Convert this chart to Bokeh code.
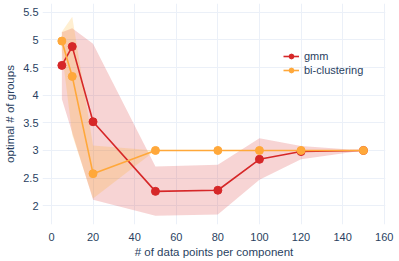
from bokeh.plotting import figure
from bokeh.models import Legend, LegendItem, FixedTicker
from bokeh.embed import file_html
from bokeh.resources import INLINE

# data
x_vals = [5, 10, 20, 50, 80, 100, 120, 150]
gmm_mean = [4.54, 4.88, 3.52, 2.26, 2.28, 2.84, 2.98, 3.0]
gmm_upper = [5.14, 5.21, 4.93, 2.71, 2.74, 3.22, 3.08, 3.0]
gmm_lower = [3.93, 3.32, 2.11, 1.82, 1.84, 2.47, 2.84, 3.0]
bi_mean = [4.98, 4.34, 2.58, 3.0, 3.0, 3.0, 3.0, 3.0]
bi_upper = [5.15, 5.42, 3.09, 3.0, 3.0, 3.0, 3.0, 3.0]
bi_lower = [4.80, 3.28, 2.13, 3.0, 3.0, 3.0, 3.0, 3.0]
x_ticks = [0, 20, 40, 60, 80, 100, 120, 140, 160]
y_ticks = [2, 2.5, 3, 3.5, 4, 4.5, 5, 5.5]
y_tick_labels = ["2", "2.5", "3", "3.5", "4", "4.5", "5", "5.5"]

RED = "#d62728"
ORANGE = "#ffa83a"
TEXT = "#2a3f5f"
GRID = "#ebf0f8"
FONT = "Liberation Sans"

p = figure(width=399, height=260, output_backend="svg", toolbar_location=None,
           x_range=(-4.3, 160.6), y_range=(1.66, 5.66),
           min_border_left=42, min_border_right=14, min_border_top=3, min_border_bottom=35)
p.outline_line_color = None
p.background_fill_color = "white"

p.varea(x=x_vals, y1=gmm_lower, y2=gmm_upper, fill_color=RED, fill_alpha=0.2)
p.varea(x=x_vals, y1=bi_lower, y2=bi_upper, fill_color="#ffa500", fill_alpha=0.18)
r1l = p.line(x_vals, gmm_mean, line_color=RED, line_width=1.6)
r1m = p.scatter(x_vals, gmm_mean, size=8, fill_color=RED, line_color=RED)
r2l = p.line(x_vals, bi_mean, line_color=ORANGE, line_width=1.6)
r2m = p.scatter(x_vals, bi_mean, size=8, fill_color=ORANGE, line_color=ORANGE)

p.xaxis.ticker = FixedTicker(ticks=x_ticks)
p.yaxis.ticker = FixedTicker(ticks=y_ticks)
p.yaxis.major_label_overrides = {t: l for t, l in zip(y_ticks, y_tick_labels)}

for ax in (p.xaxis[0], p.yaxis[0]):
    ax.axis_line_color = None
    ax.major_tick_line_color = None
    ax.minor_tick_line_color = None
    ax.major_tick_out = 0
    ax.major_tick_in = 0
    ax.minor_tick_out = 0
    ax.major_label_text_font = FONT
    ax.major_label_text_font_size = "11px"
    ax.major_label_text_color = TEXT
    ax.axis_label_text_font = FONT
    ax.axis_label_text_font_size = "11.5px"
    ax.axis_label_text_font_style = "normal"
    ax.axis_label_text_color = TEXT

p.xaxis.axis_label = "# of data points per component"
p.yaxis.axis_label = "optimal # of groups"
p.xaxis.major_label_standoff = 8
p.xaxis.axis_label_standoff = 2
p.yaxis.major_label_standoff = 4
p.yaxis.axis_label_standoff = 4

p.xgrid.grid_line_color = GRID
p.ygrid.grid_line_color = GRID
p.xgrid.grid_line_width = 1
p.ygrid.grid_line_width = 1

legend = Legend(items=[LegendItem(label="gmm", renderers=[r1l, r1m]),
                       LegendItem(label="bi-clustering", renderers=[r2l, r2m])],
                location=(241, 148))
legend.glyph_width = 16
legend.glyph_height = 12
legend.label_height = 12
legend.label_standoff = 5
legend.spacing = 2
legend.padding = 0
legend.margin = 0
legend.border_line_color = None
legend.background_fill_alpha = 0
legend.label_text_font = FONT
legend.label_text_font_size = "11px"
legend.label_text_color = TEXT
p.add_layout(legend, "center")

open("out.html", "w").write(file_html(p, INLINE))
